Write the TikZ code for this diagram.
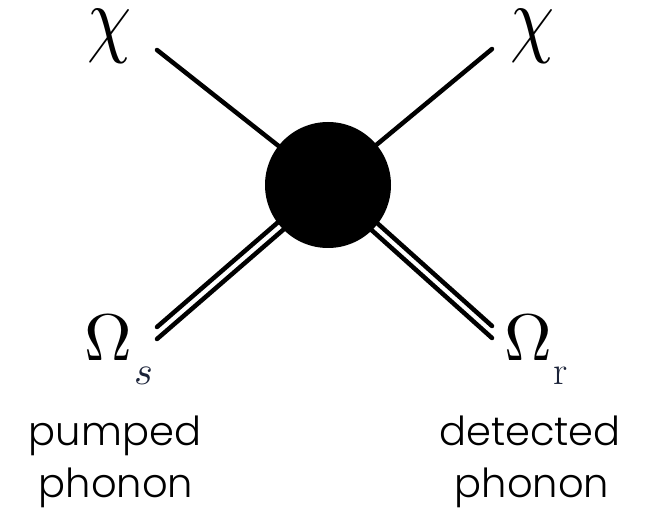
\documentclass[tikz,border=0pt]{standalone}
\usepackage{fontspec}
\usepackage{unicode-math}
\setmathfont{Latin Modern Math}
\newfontfamily\labfont{Poppins Light}
\definecolor{subcol}{HTML}{1A2238}
\begin{document}
\begin{tikzpicture}[x=1pt,y=-1pt,
  leg/.style={line width=4.5pt, line cap=round},
  lab/.style={font=\labfont\fontsize{40}{40}\selectfont, anchor=base, inner sep=0pt},
  sym/.style={font=\fontsize{86}{86}\selectfont, inner sep=0pt, anchor=base},
  omg/.style={font=\fontsize{66}{66}\selectfont, inner sep=0pt, anchor=base west}]
\useasboundingbox (0,0) rectangle (654,508);
\coordinate (c) at (328,185);
\coordinate (tl) at (157,50);
\coordinate (tr) at (492,49);
\coordinate (bl) at (157,333);
\coordinate (br) at (492,332);
\draw[leg] (tl) -- (c);
\draw[leg] (tr) -- (c);
\draw[leg] ([yshift=6pt]bl) -- ([yshift=6pt]c);
\draw[leg] ([yshift=-6pt]bl) -- ([yshift=-6pt]c);
\draw[leg] ([yshift=6pt]br) -- ([yshift=6pt]c);
\draw[leg] ([yshift=-6pt]br) -- ([yshift=-6pt]c);
\node[circle, fill=black, minimum size=126pt, inner sep=0pt] (v) at (c) {};
\node[sym] (chil) at (110,47) {\scalebox{0.82}[1]{$\chi$}};
\node[sym] (chir) at (533,47) {\scalebox{0.82}[1]{$\chi$}};
\node[omg] (oms) at (84,360) {$\Omega$\hspace{3pt}\raisebox{-24pt}{\color{subcol}\fontsize{40}{40}\selectfont$s$}};
\node[omg] (omr) at (504,360) {$\Omega$\hspace{2pt}\raisebox{-24pt}{\color{subcol}\fontsize{40}{40}\selectfont r}};
\node[lab] (p1) at (115,445) {pumped};
\node[lab] (p2) at (116,497) {phonon};
\node[lab] (d1) at (530,445) {detected};
\node[lab] (d2) at (532,497) {phonon};
\end{tikzpicture}
\end{document}
